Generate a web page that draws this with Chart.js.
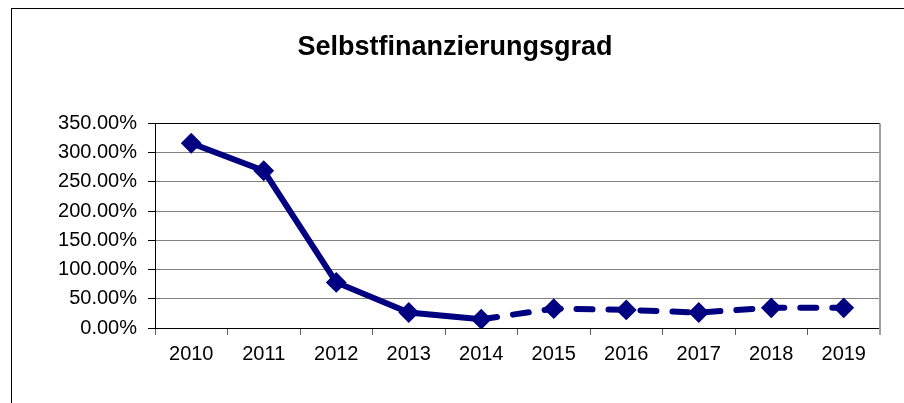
<!DOCTYPE html>
<html>
<head>
<meta charset="utf-8">
<script src="https://cdn.jsdelivr.net/npm/chart.js@4"></script>
<style>
  html, body { margin: 0; padding: 0; background: #fff; overflow: hidden; }
  #frame { position: absolute; left: 11px; top: 8px; width: 1000px; height: 500px; border-left: 1px solid #000; border-top: 1px solid #000; }
  #chart-1 { position: absolute; left: 0; top: 0; }
</style>
</head>
<body>
<div id="frame"></div>
<canvas id="chart-1" width="904" height="403"></canvas>
<script>
const years = ["2010", "2011", "2012", "2013", "2014", "2015", "2016", "2017", "2018", "2019"];
const selbstfinanzierung = [316, 269, 78, 26.5, 15, 33, 31, 26.5, 34.5, 34.5];
const yTicks = [0, 50, 100, 150, 200, 250, 300, 350];
const lastActual = 4; // ab 2014 gestrichelt (Planwerte)

const navy = "#000080";

// rechter Rand der Zeichenfläche (grau)
const rightBorder = {
  id: "rightBorder",
  afterDraw(chart) {
    const { ctx, chartArea } = chart;
    ctx.save();
    ctx.strokeStyle = "#a0a0a0";
    ctx.lineWidth = 2;
    ctx.beginPath();
    ctx.moveTo(chartArea.right, chartArea.top);
    ctx.lineTo(chartArea.right, chartArea.bottom + 7);
    ctx.stroke();
    ctx.restore();
  }
};

Chart.defaults.font.family = "'Liberation Sans', Arial, sans-serif";
Chart.defaults.color = "#000";

const ctx1 = document.getElementById("chart-1").getContext("2d");
const myChart1 = new Chart(ctx1, {
  type: "line",
  data: {
    labels: years,
    datasets: [
      {
        label: "Selbstfinanzierungsgrad",
        data: selbstfinanzierung,
        borderColor: navy,
        backgroundColor: navy,
        borderWidth: 6,
        borderCapStyle: "round",
        pointStyle: "rectRot",
        pointRadius: 9,
        pointBorderWidth: 2,
        pointBackgroundColor: navy,
        pointBorderColor: navy,
        tension: 0,
        segment: {
          borderDash: (c) => (c.p0DataIndex >= lastActual ? [16, 16] : undefined)
        }
      }
    ]
  },
  options: {
    responsive: false,
    animation: false,
    devicePixelRatio: 1,
    layout: { padding: { top: 0, right: 24, bottom: 0, left: 30 } },
    plugins: {
      legend: { display: false },
      tooltip: { enabled: false },
      title: {
        display: true,
        text: "Selbstfinanzierungsgrad",
        color: "#000",
        font: { size: 27, weight: "bold" },
        padding: { top: 31, bottom: 60 }
      }
    },
    scales: {
      x: {
        offset: true,
        grid: {
          offset: true,
          drawOnChartArea: false,
          tickLength: 7,
          tickColor: "#606060"
        },
        border: { color: "#000", width: 1 },
        ticks: { font: { size: 20 }, padding: 7, maxRotation: 0 },
        afterFit(scale) { scale.height = 75; }
      },
      y: {
        min: 0,
        max: 350,
        afterBuildTicks(scale) { scale.ticks = yTicks.map((v) => ({ value: v })); },
        grid: {
          color: (c) => (c.tick && c.tick.value === 350 ? "#000" : "#808080"),
          tickLength: 7,
          tickColor: "#000"
        },
        border: { color: "#000", width: 1 },
        ticks: {
          font: { size: 20 },
          padding: 11,
          callback: (v) => v.toFixed(2) + "%"
        },
        afterFit(scale) { scale.width = 125; }
      }
    }
  },
  plugins: [rightBorder]
});
</script>
</body>
</html>
